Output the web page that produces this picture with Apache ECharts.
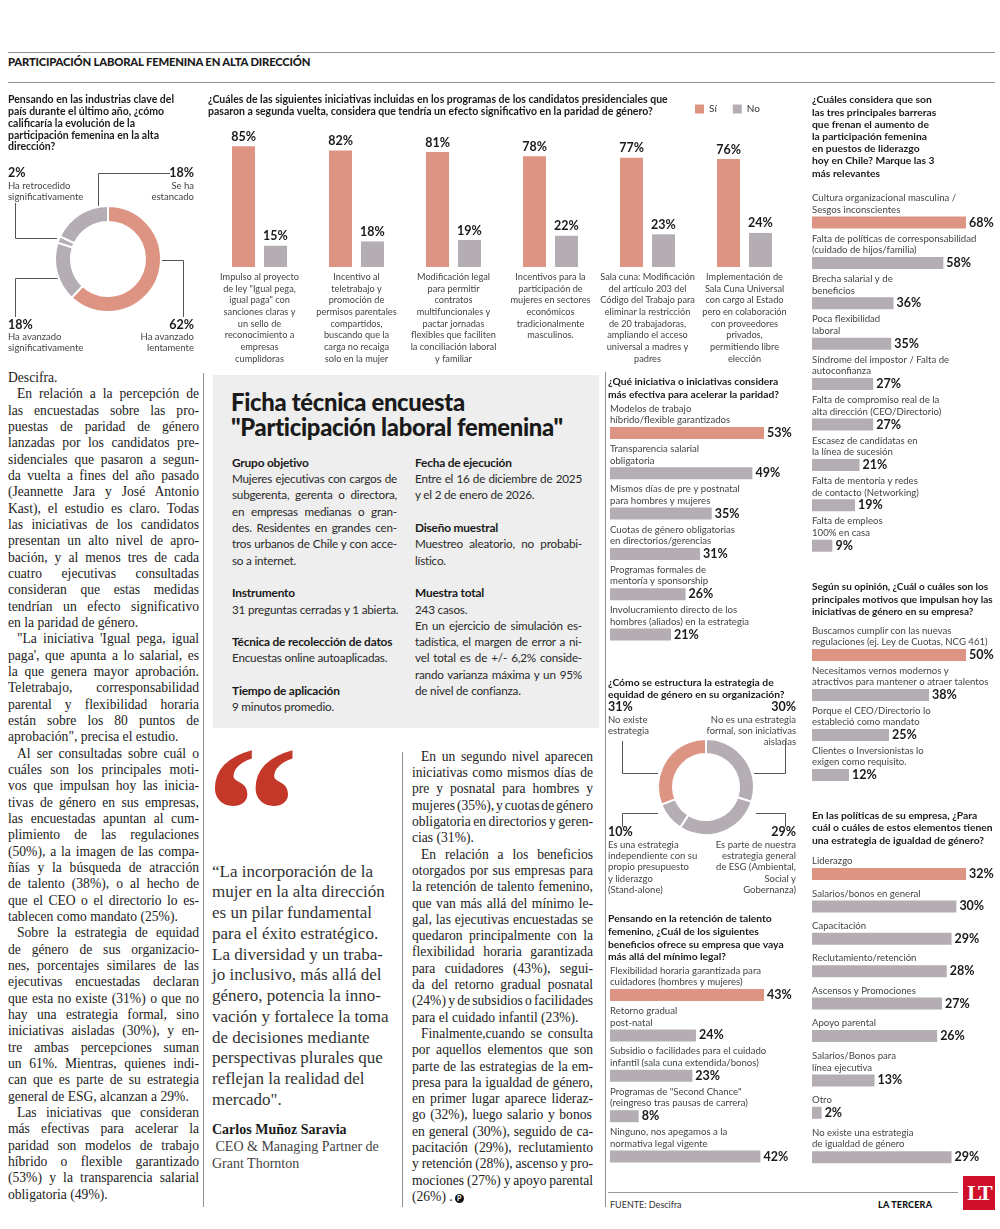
<!DOCTYPE html>
<html><head><meta charset="utf-8">
<script src="https://cdn.jsdelivr.net/npm/echarts@6/dist/echarts.min.js"></script>
<style>
html,body{margin:0;padding:0;background:#fff;}
body{width:1000px;height:1229px;position:relative;overflow:hidden;font-family:Lato,'Noto Sans',sans-serif;color:#1a1a1a;}
.a{position:absolute;white-space:nowrap;}
.hl{position:absolute;height:1px;background:#8f8f8f;}
.vl{position:absolute;width:1px;background:#8f8f8f;}
.ln{position:absolute;white-space:nowrap;}
#chart{position:absolute;left:0;top:0;width:1000px;height:1229px;z-index:5;}
#ficha{position:absolute;left:213px;top:375px;width:386px;height:353px;background:#eeeeee;}
</style></head><body>
<div class="hl" style="left:8px;top:52px;width:987px;"></div>
<div class="a" style="left:8px;top:55px;font:900 11.3px Lato;letter-spacing:-0.2px;line-height:14px;">PARTICIPACIÓN LABORAL FEMENINA EN ALTA DIRECCIÓN</div>
<div class="hl" style="left:8px;top:82px;width:987px;"></div>

<div class="vl" style="left:203px;top:373px;height:834px;"></div>
<div class="vl" style="left:402px;top:752px;height:455px;"></div>
<div class="vl" style="left:605px;top:372px;height:835px;"></div>

<div id="ficha"></div>
<div class="a" style="left:231px;top:390px;font:900 23.8px Lato;line-height:25px;letter-spacing:-0.3px;color:#1a1a1a;">Ficha técnica encuesta<br>"Participación laboral femenina"</div>

<div class="a" style="left:206px;top:718px;font:bold 185px 'Liberation Serif';line-height:185px;color:#c4382a;">“</div>

<div class="hl" style="left:608px;top:1192px;width:350px;background:#9a9a9a;"></div>
<div class="a" style="left:610px;top:1199px;font:9px Lato;line-height:12px;color:#333;">FUENTE: Descifra</div>
<div class="a" style="left:878px;top:1199px;font:900 9px Lato;line-height:12px;letter-spacing:0.2px;color:#111;">LA TERCERA</div>
<div class="a" style="left:963px;top:1176px;width:32px;height:34px;background:#d0102a;color:#fff;font:bold 22px 'Liberation Serif';line-height:34px;text-align:center;letter-spacing:-2px;">LT</div>

<div id="chart"></div>

<script>
// ---------------- DATA ----------------
const evolNames = ['Ha avanzado\nlentamente', 'Ha avanzado\nsignificativamente', 'Ha retrocedido\nsignificativamente', 'Se ha\nestancado'];
const evolVals = [62, 18, 2, 18];

const iniciativasCats = [
  'Impulso al proyecto\nde ley "Igual pega,\nigual paga" con\nsanciones claras y\nun sello de\nreconocimiento a\nempresas\ncumplidoras',
  'Incentivo al\nteletrabajo y\npromoción de\npermisos parentales\ncompartidos,\nbuscando que la\ncarga no recaiga\nsolo en la mujer',
  'Modificación legal\npara permitir\ncontratos\nmultifuncionales y\npactar jornadas\nflexibles que faciliten\nla conciliación laboral\ny familiar',
  'Incentivos para la\nparticipación de\nmujeres en sectores\neconómicos\ntradicionalmente\nmasculinos.',
  'Sala cuna: Modificación\ndel artículo 203 del\nCódigo del Trabajo para\neliminar la restricción\nde 20 trabajadoras,\nampliando el acceso\nuniversal a madres y\npadres',
  'Implementación de\nSala Cuna Universal\ncon cargo al Estado\npero en colaboración\ncon proveedores\nprivados,\npermitiendo libre\nelección'
];
const iniciativasSi = [85, 82, 81, 78, 77, 76];
const iniciativasNo = [15, 18, 19, 22, 23, 24];

const barrerasCats = [
  'Cultura organizacional masculina /\nSesgos inconscientes',
  'Falta de políticas de corresponsabilidad\n(cuidado de hijos/familia)',
  'Brecha salarial y de\nbeneficios',
  'Poca flexibilidad\nlaboral',
  'Síndrome del impostor / Falta de\nautoconfianza',
  'Falta de compromiso real de la\nalta dirección (CEO/Directorio)',
  'Escasez de candidatas en\nla línea de sucesión',
  'Falta de mentoría y redes\nde contacto (Networking)',
  'Falta de empleos\n100% en casa'
];
const barrerasVals = [68, 58, 36, 35, 27, 27, 21, 19, 9];

const motivosCats = [
  'Buscamos cumplir con las nuevas\nregulaciones (ej. Ley de Cuotas, NCG 461)',
  'Necesitamos vernos modernos y\natractivos para mantener o atraer talentos',
  'Porque el CEO/Directorio lo\nestableció como mandato',
  'Clientes o Inversionistas lo\nexigen como requisito.'
];
const motivosVals = [50, 38, 25, 12];

const elementosCats = [
  'Liderazgo', 'Salarios/bonos en general', 'Capacitación', 'Reclutamiento/retención',
  'Ascensos y Promociones', 'Apoyo parental', 'Salarios/Bonos para\nlínea ejecutiva', 'Otro',
  'No existe una estrategia\nde igualdad de género'
];
const elementosVals = [32, 30, 29, 28, 27, 26, 13, 2, 29];

const efectivaCats = [
  'Modelos de trabajo\nhíbrido/flexible garantizados',
  'Transparencia salarial\nobligatoria',
  'Mismos días de pre y postnatal\npara hombres y mujeres',
  'Cuotas de género obligatorias\nen directorios/gerencias',
  'Programas formales de\nmentoría y sponsorship',
  'Involucramiento directo de los\nhombres (aliados) en la estrategia'
];
const efectivaVals = [53, 49, 35, 31, 26, 21];

const estrategiaNames = [
  'No es una estrategia\nformal, son iniciativas\naisladas',
  'Es parte de nuestra\nestrategia general\nde ESG (Ambiental,\nSocial y\nGobernanza)',
  'Es una estrategia\nindependiente con su\npropio presupuesto\ny liderazgo\n(Stand-alone)',
  'No existe\nestrategia'
];
const estrategiaVals = [30, 29, 10, 31];

const retencionCats = [
  'Flexibilidad horaria garantizada para\ncuidadores (hombres y mujeres)',
  'Retorno gradual\npost-natal',
  'Subsidio o facilidades para el cuidado\ninfantil (sala cuna extendida/bonos)',
  'Programas de "Second Chance"\n(reingreso tras pausas de carrera)',
  'Ninguno, nos apegamos a la\nnormativa legal vigente'
];
const retencionVals = [43, 24, 23, 8, 42];

// ---------------- TEXT ----------------
const colIzq = [
  {p:['Descifra.'], ind:false},
  {p:['En relación a la percepción de','las encuestadas sobre las pro-','puestas de paridad de género','lanzadas por los candidatos pre-','sidenciales que pasaron a segun-','da vuelta a fines del año pasado','(Jeannette Jara y José Antonio','Kast), el estudio es claro. Todas','las iniciativas de los candidatos','presentan un alto nivel de apro-','bación, y al menos tres de cada','cuatro ejecutivas consultadas','consideran que estas medidas','tendrían un efecto significativo','en la paridad de género.']},
  {p:['"La iniciativa \'Igual pega, igual','paga\', que apunta a lo salarial, es','la que genera mayor aprobación.','Teletrabajo, corresponsabilidad','parental y flexibilidad horaria','están sobre los 80 puntos de','aprobación", precisa el estudio.']},
  {p:['Al ser consultadas sobre cuál o','cuáles son los principales moti-','vos que impulsan hoy las inicia-','tivas de género en sus empresas,','las encuestadas apuntan al cum-','plimiento de las regulaciones','(50%), a la imagen de las compa-','ñías y la búsqueda de atracción','de talento (38%), o al hecho de','que el CEO o el directorio lo es-','tablecen como mandato (25%).']},
  {p:['Sobre la estrategia de equidad','de género de sus organizacio-','nes, porcentajes similares de las','ejecutivas encuestadas declaran','que esta no existe (31%) o que no','hay una estrategia formal, sino','iniciativas aisladas (30%), y en-','tre ambas percepciones suman','un 61%. Mientras, quienes indi-','can que es parte de su estrategia','general de ESG, alcanzan a 29%.']},
  {p:['Las iniciativas que consideran','más efectivas para acelerar la','paridad son modelos de trabajo','híbrido o flexible garantizado','(53%) y la transparencia salarial','obligatoria (49%).']}
];
const colMed = [
  {p:['En un segundo nivel aparecen','iniciativas como mismos días de','pre y posnatal para hombres y','mujeres (35%), y cuotas de género','obligatoria en directorios y geren-','cias (31%).']},
  {p:['En relación a los beneficios','otorgados por sus empresas para','la retención de talento femenino,','que van más allá del mínimo le-','gal, las ejecutivas encuestadas se','quedaron principalmente con la','flexibilidad horaria garantizada','para cuidadores (43%), segui-','da del retorno gradual posnatal','(24%) y de subsidios o facilidades','para el cuidado infantil (23%).']},
  {p:['Finalmente,cuando se consulta','por aquellos elementos que son','parte de las estrategias de la em-','presa para la igualdad de género,','en primer lugar aparece lideraz-','go (32%),  luego salario y bonos','en general (30%), seguido de ca-','pacitación (29%), reclutamiento','y retención (28%), ascenso y pro-','mociones (27%) y apoyo parental','(26%) .']}
];
const fichaIzq = [
  {t:'Grupo objetivo', b:1},
  {t:'Mujeres ejecutivas con cargos de', j:1},
  {t:'subgerenta, gerenta o directora,', j:1},
  {t:'en empresas medianas o gran-', j:1},
  {t:'des. Residentes en grandes cen-', j:1},
  {t:'tros urbanos de Chile y con acce-', j:1},
  {t:'so a internet.'},
  {t:''},
  {t:'Instrumento', b:1},
  {t:'31 preguntas cerradas y 1 abierta.'},
  {t:''},
  {t:'Técnica de recolección de datos', b:1},
  {t:'Encuestas online autoaplicadas.'},
  {t:''},
  {t:'Tiempo de aplicación', b:1},
  {t:'9 minutos promedio.'}
];
const fichaDer = [
  {t:'Fecha de ejecución', b:1},
  {t:'Entre el 16 de diciembre de 2025', j:1},
  {t:'y el 2 de enero de 2026.'},
  {t:''},
  {t:'Diseño muestral', b:1},
  {t:'Muestreo aleatorio, no probabi-', j:1},
  {t:'lístico.'},
  {t:''},
  {t:'Muestra total', b:1},
  {t:'243 casos.'},
  {t:'En un ejercicio de simulación es-', j:1},
  {t:'tadística, el margen de error a ni-', j:1},
  {t:'vel total es de +/- 6,2% conside-', j:1},
  {t:'rando varianza máxima y un 95%', j:1},
  {t:'de nivel de confianza.'}
];
const cita = ['“La incorporación de la','mujer en la alta dirección','es un pilar fundamental','para el éxito estratégico.','La diversidad y un traba-','jo inclusivo, más allá del','género, potencia la inno-','vación y fortalece la toma','de decisiones mediante','perspectivas plurales que','reflejan la realidad del','mercado".'];

function paras(ps){
  const out=[];
  ps.forEach(P=>{
    P.p.forEach((t,i)=>out.push({t, ind: i===0 && P.ind!==false, j: i<P.p.length-1}));
  });
  return out;
}
const justified=[];
function renderLines(lines,o){
  lines.forEach((L,i)=>{
    if(!L.t) return;
    const d=document.createElement('div');
    d.className='ln';
    const ind = L.ind ? (o.indent||0) : 0;
    d.style.left=(o.left+ind)+'px';
    d.style.top=(o.top+i*o.lh-o.lh/2)+'px';
    d.style.lineHeight=o.lh+'px';
    d.style.font=L.b? o.bfont : o.font;
    if(o.ls) d.style.letterSpacing=o.ls;
    d.style.color=L.b? (o.bcolor||o.color) : o.color;
    const s=document.createElement('span');
    s.textContent=L.t;
    d.appendChild(s);
    if(L.end){ const m=document.createElement('span'); m.textContent='P'; m.style.cssText='display:inline-block;width:9px;height:9px;border-radius:50%;background:#111;color:#fff;font:bold 7px Lato;line-height:9px;text-align:center;margin-left:2px;vertical-align:0px;letter-spacing:0;'; d.appendChild(m); }
    document.body.appendChild(d);
    if(L.j) justified.push({s, w:o.width-ind, n:(L.t.match(/ /g)||[]).length});
  });
}
function doJustify(){
  justified.forEach(J=>{
    J.s.style.wordSpacing='0px';
    const nat=J.s.getBoundingClientRect().width;
    if(J.n) J.s.style.wordSpacing=((J.w-nat)/J.n)+'px';
  });
}
const izq=paras(colIzq);
renderLines(izq,{left:8,top:378,lh:16.34,width:191,indent:9,font:"13.6px 'Liberation Serif'",color:'#222'});
const med=paras(colMed); med[med.length-1].end=true;
renderLines(med,{left:412,top:757,lh:16.3,width:181,indent:9,font:"13.6px 'Liberation Serif'",color:'#222'});
renderLines(fichaIzq,{left:232,top:463,lh:16.3,width:165,font:"11.7px Lato",bfont:"bold 11.9px Lato",ls:'-0.2px',color:'#2a2a2a',bcolor:'#1a1a1a'});
renderLines(fichaDer,{left:415,top:463,lh:16.3,width:167,font:"11.7px Lato",bfont:"bold 11.9px Lato",ls:'-0.2px',color:'#2a2a2a',bcolor:'#1a1a1a'});
renderLines(cita.map(t=>({t})),{left:212,top:872,lh:20.75,width:180,font:"17px 'Liberation Serif'",color:'#333'});
renderLines([{t:'Carlos Muñoz Saravia',b:1},{t:'\u00a0CEO & Managing Partner de'},{t:'Grant Thornton'}],{left:212,top:1130,lh:17,width:180,font:"14px 'Liberation Serif'",bfont:"bold 14px 'Liberation Serif'",color:'#444',bcolor:'#1a1a1a'});
doJustify();
if(document.fonts&&document.fonts.ready) document.fonts.ready.then(doJustify);

// ---------------- CHART ----------------
const FONT='Lato';
const SALMON='#de9483', GRAY='#b4adb4', DARK='#1a1a1a', LBL='#444';
const grids=[], xAxes=[], yAxes=[], series=[], graphics=[];

// grouped bars
grids.push({left:211, top:125, width:582, height:142});
xAxes.push({gridIndex:0, type:'category', data:iniciativasCats, axisLine:{show:false}, axisTick:{show:false},
  axisLabel:{interval:0, margin:4, fontSize:9.2, lineHeight:11.7, color:LBL, fontFamily:FONT, verticalAlign:'top'}});
yAxes.push({gridIndex:0, type:'value', min:0, max:100, show:false, splitLine:{show:false}});
const topLbl={show:true, position:'top', distance:3, formatter:'{c}%', fontSize:12.5, fontWeight:'bold', color:DARK, fontFamily:FONT};
series.push({name:'Sí', type:'bar', xAxisIndex:0, yAxisIndex:0, data:iniciativasSi, barWidth:23, barGap:'39%', itemStyle:{color:SALMON}, label:topLbl});
series.push({name:'No', type:'bar', xAxisIndex:0, yAxisIndex:0, data:iniciativasNo, barWidth:23, barGap:'39%', itemStyle:{color:GRAY}, label:topLbl});

const BAR_H=12, BAR_W=154;
function hbars(cats, vals, left, y0, step){
  const max=Math.max(...vals);
  let y=y0;
  cats.forEach((c,i)=>{
    if(i>0) y+=step(c);
    const k=grids.length;
    grids.push({left, top:y-BAR_H/2, width:BAR_W, height:BAR_H});
    xAxes.push({gridIndex:k, type:'value', min:0, max, show:false, splitLine:{show:false}});
    yAxes.push({gridIndex:k, type:'category', data:[c], axisLine:{show:false}, axisTick:{show:false},
      axisLabel:{inside:true, margin:0, align:'left', verticalAlign:'bottom', padding:[0,0,7,0], fontSize:9.6, lineHeight:11.6, color:LBL, fontFamily:FONT}});
    series.push({type:'bar', xAxisIndex:k, yAxisIndex:k, barWidth:BAR_H,
      data:[{value:vals[i], itemStyle:{color: i===0?SALMON:GRAY}}],
      label:{show:true, position:'right', distance:3, formatter:'{c}%', fontSize:12.5, fontWeight:'bold', color:DARK, fontFamily:FONT}});
  });
}
hbars(barrerasCats, barrerasVals, 812, 222.5, ()=>40.4);
hbars(motivosCats, motivosVals, 812, 655, ()=>40);
hbars(elementosCats, elementosVals, 812, 874, c=>32.4+(c.split('\n').length-1)*12);
hbars(efectivaCats, efectivaVals, 610, 433, ()=>40.3);
hbars(retencionCats, retencionVals, 610, 995, ()=>40.4);

// donuts
function donut(names, vals, center, radius, salmonIdx){
  series.push({type:'pie', center, radius, startAngle:90, clockwise:true, silent:true,
    label:{show:false}, labelLine:{show:false},
    itemStyle:{borderColor:'#fff', borderWidth:2},
    data:names.map((n,i)=>({name:n, value:vals[i], itemStyle:{color: i===salmonIdx?SALMON:GRAY}}))});
}
donut(evolNames, evolVals, [108,259], [37,53], 0);
donut(estrategiaNames, estrategiaVals, [706,787], [33,48], 3);

function pieLabel(x, y, align, val, name, lh){
  graphics.push({type:'text', x, y, style:{text:val+'%', fontSize:12.5, fontWeight:'bold', fontFamily:FONT, fill:DARK, align, verticalAlign:'middle', textAlign:align, textVerticalAlign:'middle'}});
  graphics.push({type:'text', x, y:y+7, style:{text:name, fontSize:9.5, lineHeight:lh, fontFamily:FONT, fill:LBL, align, verticalAlign:'top', textAlign:align, textVerticalAlign:'top'}});
}
pieLabel(8, 173, 'left', evolVals[2], evolNames[2], 11);
pieLabel(194, 173, 'right', evolVals[3], evolNames[3], 11);
pieLabel(8, 325, 'left', evolVals[1], evolNames[1], 10.5);
pieLabel(194, 325, 'right', evolVals[0], evolNames[0], 10.5);
pieLabel(608, 707, 'left', estrategiaVals[3], estrategiaNames[3], 11);
pieLabel(796, 707, 'right', estrategiaVals[0], estrategiaNames[0], 11);
pieLabel(608, 832, 'left', estrategiaVals[2], estrategiaNames[2], 11.3);
pieLabel(796, 832, 'right', estrategiaVals[1], estrategiaNames[1], 11.3);

function leader(pts){ graphics.push({type:'polyline', shape:{points:pts}, style:{stroke:'#555', lineWidth:1, fill:null}, silent:true}); }
leader([[170,173.5],[98.5,173.5],[98.5,209]]);
leader([[15.5,203],[15.5,238.5],[57,238.5]]);
leader([[15.5,317],[15.5,278.5],[61,278.5]]);
leader([[158,260.5],[183.5,260.5],[183.5,317]]);
leader([[622.5,741],[622.5,773.5],[658,773.5]]);
leader([[785.5,741],[785.5,773.5],[754,773.5]]);
leader([[658,813.5],[622.5,813.5],[622.5,827]]);
leader([[756,813.5],[785.5,813.5],[785.5,827]]);

const qs={fontFamily:FONT, fontSize:10.3, fontWeight:'bold', color:DARK};
const titles=[
  {text:'Pensando en las industrias clave del\npaís durante el último año, ¿cómo\ncalificaría la evolución de la\nparticipación femenina en la alta\ndirección?', left:8, top:94, textStyle:Object.assign({lineHeight:11.75},qs,{fontSize:10.5})},
  {text:'¿Cuáles de las siguientes iniciativas incluidas en los programas de los candidatos presidenciales que\npasaron a segunda vuelta, considera que tendría un efecto significativo en la paridad de género?', left:208, top:94, textStyle:Object.assign({lineHeight:12},qs,{fontSize:10.5})},
  {text:'¿Cuáles considera que son\nlas tres principales barreras\nque frenan el aumento de\nla participación femenina\nen puestos de liderazgo\nhoy en Chile? Marque las 3\nmás relevantes', left:812, top:94, textStyle:Object.assign({lineHeight:12.2},qs)},
  {text:'Según su opinión, ¿Cuál o cuáles son los\nprincipales motivos que impulsan hoy las\niniciativas de género en su empresa?', left:812, top:581, textStyle:Object.assign({lineHeight:12.5},qs,{fontSize:10})},
  {text:'En las políticas de su empresa, ¿Para\ncuál o cuáles de estos elementos tienen\nuna estrategia de igualdad de género?', left:812, top:809, textStyle:Object.assign({lineHeight:12.5},qs)},
  {text:'¿Qué iniciativa o iniciativas considera\nmás efectiva para acelerar la paridad?', left:608, top:375.5, textStyle:Object.assign({lineHeight:13},qs)},
  {text:'¿Cómo se estructura la estrategia de\nequidad de género en su organización?', left:608, top:677, textStyle:Object.assign({lineHeight:11.5},qs)},
  {text:'Pensando en la retención de talento\nfemenino, ¿Cuál de los siguientes\nbeneficios ofrece su empresa que vaya\nmás allá del mínimo legal?', left:608, top:912, textStyle:Object.assign({lineHeight:12.9},qs)}
].map(t=>Object.assign({padding:0},t));

const chart=echarts.init(document.getElementById('chart'),null,{renderer:'canvas'});
chart.setOption({
  animation:false,
  backgroundColor:'transparent',
  title:titles,
  legend:{data:['Sí','No'], left:690, top:99, itemWidth:9, itemHeight:9, itemGap:16, icon:'rect',
    textStyle:{fontSize:10, color:'#333', fontFamily:FONT}},
  grid:grids, xAxis:xAxes, yAxis:yAxes, series, graphic:graphics
});
</script>
</body></html>
